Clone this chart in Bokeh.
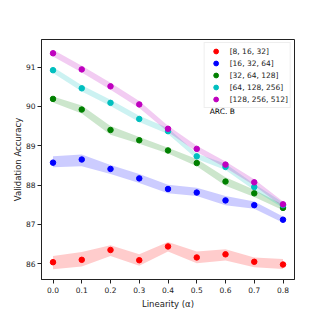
from bokeh.plotting import figure
from bokeh.models import FixedTicker, Legend, LegendItem, Label, Range1d, NumeralTickFormatter
from bokeh.embed import file_html
from bokeh.resources import INLINE

alpha = [0.0, 0.1, 0.2, 0.3, 0.4, 0.5, 0.6, 0.7, 0.8]
labels = ["[8, 16, 32]", "[16, 32, 64]", "[32, 64, 128]", "[64, 128, 256]", "[128, 256, 512]"]
colors = ["#ff0000", "#0000ff", "#008000", "#00bfbf", "#bf00bf"]

acc_8 = [86.04, 86.10, 86.35, 86.09, 86.44, 86.16, 86.24, 86.05, 85.98]
low_8 = [85.86, 85.93, 86.20, 85.95, 86.31, 86.01, 86.08, 85.91, 85.87]
up_8 = [86.20, 86.30, 86.47, 86.24, 86.55, 86.31, 86.37, 86.16, 86.12]

acc_16 = [88.57, 88.65, 88.41, 88.17, 87.90, 87.81, 87.61, 87.49, 87.12]
low_16 = [88.45, 88.48, 88.28, 88.05, 87.79, 87.72, 87.49, 87.40, 87.04]
up_16 = [88.73, 88.78, 88.51, 88.28, 88.01, 87.93, 87.72, 87.58, 87.20]

acc_32 = [90.19, 89.92, 89.40, 89.14, 88.88, 88.56, 88.09, 87.79, 87.42]
low_32 = [90.10, 89.82, 89.28, 89.05, 88.80, 88.48, 87.98, 87.70, 87.36]
up_32 = [90.25, 90.02, 89.50, 89.22, 88.95, 88.66, 88.20, 87.88, 87.50]

acc_64 = [90.92, 90.46, 90.09, 89.68, 89.37, 88.73, 88.46, 87.95, 87.49]
low_64 = [90.85, 90.38, 90.01, 89.60, 89.30, 88.66, 88.38, 87.87, 87.42]
up_64 = [91.00, 90.54, 90.17, 89.76, 89.45, 88.80, 88.54, 88.03, 87.56]

acc_128 = [91.35, 90.94, 90.51, 90.05, 89.43, 88.92, 88.52, 88.07, 87.51]
low_128 = [91.27, 90.86, 90.42, 89.96, 89.35, 88.84, 88.44, 87.99, 87.44]
up_128 = [91.44, 91.03, 90.60, 90.14, 89.51, 89.00, 88.60, 88.15, 87.58]

series = [
    (acc_8, low_8, up_8),
    (acc_16, low_16, up_16),
    (acc_32, low_32, up_32),
    (acc_64, low_64, up_64),
    (acc_128, low_128, up_128),
]

x_ticks = [0.0, 0.1, 0.2, 0.3, 0.4, 0.5, 0.6, 0.7, 0.8]
y_ticks = [86, 87, 88, 89, 90, 91]

FONT = "DejaVu Sans"

p = figure(width=311, height=311, output_backend="svg", toolbar_location=None,
           x_range=Range1d(-0.04, 0.84), y_range=Range1d(85.6, 91.7),
           min_border_left=41, min_border_right=17, min_border_top=39, min_border_bottom=25)

p.grid.visible = False
p.outline_line_color = "#222222"
p.outline_line_width = 1
p.background_fill_color = "white"
p.border_fill_color = "white"

items = []
for (acc, lo, hi), lab, col in zip(series, labels, colors):
    p.varea(x=alpha, y1=lo, y2=hi, fill_color=col, fill_alpha=0.2)
for (acc, lo, hi), lab, col in zip(series, labels, colors):
    r = p.scatter(x=alpha, y=acc, size=5.5, fill_color=col, line_color=col)
    items.append(LegendItem(label=lab, renderers=[r]))

legend = Legend(items=items, location="top_right", margin=3, padding=2, spacing=0,
                label_height=12, glyph_height=12, glyph_width=18, label_standoff=5,
                label_text_font=FONT, label_text_font_size="7.5px", label_text_color="#222222",
                border_line_color="#dddddd", border_line_width=1,
                background_fill_color="white", background_fill_alpha=0.8)
p.add_layout(legend, "center")

p.add_layout(Label(x=0.545, y=89.86, text="ARC. B", text_font=FONT, text_font_size="7.5px",
                   text_color="#000000", text_baseline="middle", text_align="left"))

for ax in (p.xaxis[0], p.yaxis[0]):
    ax.major_label_text_font = FONT
    ax.major_label_text_font_size = "7.5px"
    ax.major_label_text_color = "#222222"
    ax.axis_label_text_font = FONT
    ax.axis_label_text_font_size = "8.5px"
    ax.axis_label_text_font_style = "normal"
    ax.axis_label_text_color = "#222222"
    ax.minor_tick_line_color = None
    ax.major_tick_out = 4
    ax.major_tick_in = 0
    ax.axis_line_color = "#222222"
    ax.major_tick_line_color = "#222222"

p.yaxis.major_label_standoff = 2
p.yaxis.axis_label_standoff = 0
p.xaxis.major_label_standoff = 3
p.xaxis.axis_label_standoff = 3

p.xaxis.ticker = FixedTicker(ticks=x_ticks)
p.xaxis.formatter = NumeralTickFormatter(format="0.0")
p.yaxis.ticker = FixedTicker(ticks=y_ticks)
p.xaxis.axis_label = "Linearity (α)"
p.yaxis.axis_label = "Validation Accuracy"

open("out.html", "w").write(file_html(p, INLINE))
